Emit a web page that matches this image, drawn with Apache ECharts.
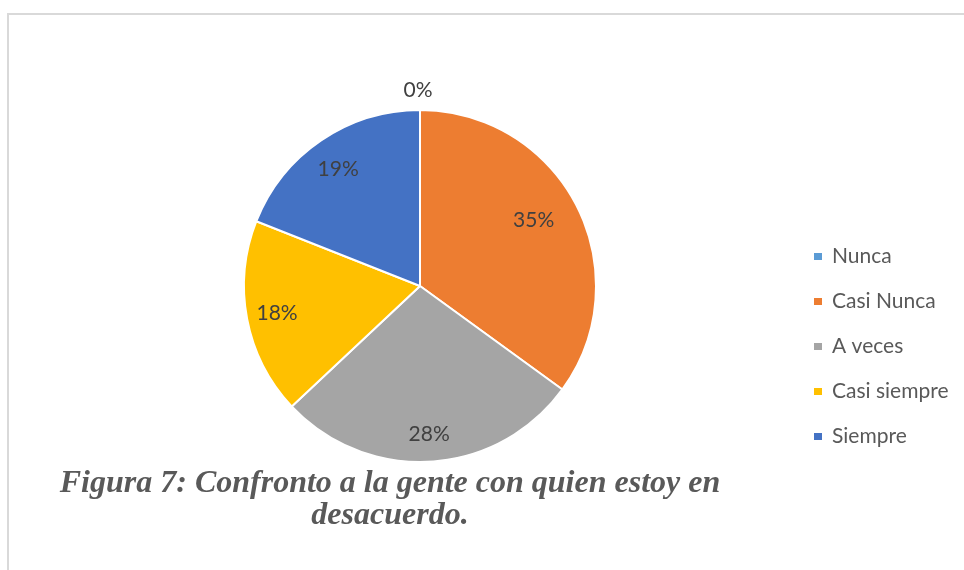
<!DOCTYPE html>
<html>
<head>
<meta charset="utf-8">
<script src="https://cdn.jsdelivr.net/npm/echarts@6/dist/echarts.min.js"></script>
<style>
html,body{margin:0;padding:0;background:#fff;}
#chart{width:964px;height:570px;}
</style>
</head>
<body>
<div id="chart"></div>
<script>
var categories = ['Nunca', 'Casi Nunca', 'A veces', 'Casi siempre', 'Siempre'];
var values = [0, 35, 28, 18, 19];
var colors = ['#5B9BD5', '#ED7D31', '#A5A5A5', '#FFC000', '#4472C4'];
var captionText = 'Figura 7: Confronto a la gente con quien estoy en\ndesacuerdo.';

var pieData = categories.map(function (c, i) {
  return { name: c, value: values[i], itemStyle: { color: colors[i] } };
});
var labelData = categories.map(function (c, i) {
  var d = { name: c, value: values[i] };
  if (i === 0) {
    d.label = { position: 'outside' };
    d.labelLine = { show: false, length: 20, length2: 0 };
  }
  return d;
});

var chart = echarts.init(document.getElementById('chart'), null, { renderer: 'canvas' });
chart.setOption({
  animation: false,
  backgroundColor: '#ffffff',
  graphic: [{
    type: 'rect',
    shape: { x: 8, y: 14, width: 1000, height: 600 },
    style: { fill: 'none', stroke: '#d9d9d9', lineWidth: 2 },
    silent: true
  }],
  title: {
    text: captionText,
    left: 390,
    top: 468,
    padding: 0,
    textAlign: 'center',
    textStyle: {
      fontFamily: '"Liberation Serif", "Times New Roman", serif',
      fontStyle: 'italic',
      fontWeight: 'bold',
      fontSize: 32,
      lineHeight: 32,
      color: '#595959'
    }
  },
  legend: {
    orient: 'vertical',
    left: 812,
    top: 246,
    padding: 0,
    itemWidth: 10,
    itemHeight: 9,
    itemGap: 24,
    icon: 'rect',
    data: categories,
    textStyle: { fontFamily: 'Lato', fontSize: 21, lineHeight: 20, color: '#595959', padding: [0, 0, 0, 4] },
    selectedMode: false
  },
  series: [{
    type: 'pie',
    center: [420, 286],
    radius: [0, 176],
    startAngle: 90,
    clockwise: true,
    data: pieData,
    label: { show: false },
    labelLine: { show: false },
    itemStyle: { borderColor: '#ffffff', borderWidth: 2 },
    emphasis: { disabled: true },
    silent: true
  }, {
    type: 'pie',
    center: [420, 286],
    radius: [109, 176],
    startAngle: 90,
    clockwise: true,
    data: labelData,
    avoidLabelOverlap: false,
    itemStyle: { color: 'rgba(0,0,0,0)', borderWidth: 0 },
    label: {
      show: true,
      position: 'inside',
      formatter: '{c}%',
      fontFamily: 'Lato',
      fontSize: 21,
      color: '#404040'
    },
    labelLine: { show: false },
    labelLayout: function (p) {
      if (p.dataIndex === 0) return { align: 'center', dx: 3 };
      if (p.dataIndex === 1) return { dx: -16 };
      if (p.dataIndex === 2) return { dy: 3 };
      if (p.dataIndex === 4) return { dy: 4 };
      return {};
    },
    emphasis: { disabled: true },
    silent: true,
    legendHoverLink: false
  }]
});
</script>
</body>
</html>
